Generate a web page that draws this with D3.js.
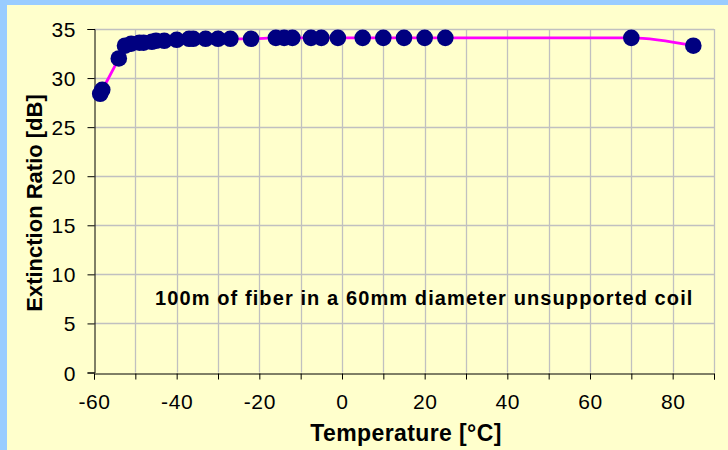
<!DOCTYPE html>
<html>
<head>
<meta charset="utf-8">
<script src="https://cdn.jsdelivr.net/npm/d3@7"></script>
<style>
  body { margin: 0; background: #99ccff; }
  svg { display: block; }
  text { font-family: 'Liberation Sans', Arial, sans-serif; fill: #000; }
</style>
</head>
<body>
<svg id="chart" width="728" height="450"></svg>
<script>
// temperature readings [°C] and extinction ratio [dB]
const temperatures = [-58.5, -58, -54, -52.5, -51, -49, -48, -46, -45, -43, -40, -37, -36, -33, -30, -27,
  -22, -16, -14, -12, -7.5, -5, -1, 5, 10, 15, 20, 25, 70, 85]
const extinction = [28.4, 28.8, 32.0, 33.3, 33.5, 33.6, 33.6, 33.7, 33.8, 33.8, 33.9, 34.0, 34.0, 34.0, 34.0, 34.0,
  34.0, 34.1, 34.1, 34.1, 34.1, 34.1, 34.1, 34.1, 34.1, 34.1, 34.1, 34.1, 34.1, 33.3]
const xTicks = [-60, -50, -40, -30, -20, -10, 0, 10, 20, 30, 40, 50, 60, 70, 80, 90]
const xLabels = [-60, -40, -20, 0, 20, 40, 60, 80]
const yTicks = [0, 5, 10, 15, 20, 25, 30, 35]

const svg = d3.select('#chart')

// pale yellow chart area, blue strip on top and left
svg.append('rect').attr('x', 7).attr('y', 5).attr('width', 721).attr('height', 445).attr('fill', '#ffffcc')

const x = d3.scaleLinear().domain([-60, 90]).range([94, 714])
const y = d3.scaleLinear().domain([0, 35]).range([372.5, 29])

// gridlines
const grid = svg.append('g').attr('stroke', '#c0c0c0').attr('stroke-width', 1.3)
grid.selectAll('line.v').data(xTicks.slice(1)).join('line')
  .attr('x1', d => Math.round(x(d)) + 0.5).attr('x2', d => Math.round(x(d)) + 0.5)
  .attr('y1', y(35)).attr('y2', y(0))
grid.selectAll('line.h').data(yTicks.slice(1)).join('line')
  .attr('x1', x(-60)).attr('x2', x(90))
  .attr('y1', d => Math.round(y(d)) + 0.5).attr('y2', d => Math.round(y(d)) + 0.5)

// axes
const xAxis = d3.axisBottom(x).tickValues(xTicks).tickSize(6).tickFormat(d => xLabels.includes(d) ? d : '')
const yAxis = d3.axisLeft(y).tickValues(yTicks).tickSize(7)

const gx = svg.append('g').attr('transform', `translate(0,${Math.round(y(0)) + 0.5})`).call(xAxis)
gx.select('.domain').attr('stroke', '#000')
gx.selectAll('text').attr('dy', '1.25em')

const gy = svg.append('g').attr('transform', `translate(${Math.round(x(-60)) + 0.5},0)`).call(yAxis)
gy.select('.domain').attr('stroke', '#000')
gy.selectAll('text').attr('dx', '-0.4em').attr('dy', '0.36em')
svg.selectAll('.tick text')
  .style('font-family', "'Liberation Sans', Arial, sans-serif")
  .style('font-size', '21px')
  .style('letter-spacing', '0.6px')

// smoothed line
const points = temperatures.map((t, i) => [t, extinction[i]])
const line = d3.line().x(d => x(d[0])).y(d => y(d[1])).curve(d3.curveMonotoneX)
svg.append('path').datum(points).attr('d', line)
  .attr('fill', 'none').attr('stroke', '#ff00ff').attr('stroke-width', 2.8)

// markers
svg.append('g').selectAll('circle').data(points).join('circle')
  .attr('cx', d => x(d[0])).attr('cy', d => y(d[1])).attr('r', 8.3)
  .attr('fill', '#000080')

// annotation
svg.append('text').attr('x', 155).attr('y', 305)
  .style('font-size', '20px').style('letter-spacing', '1.1px').attr('font-weight', 'bold')
  .text('100m of fiber in a 60mm diameter unsupported coil')

// axis titles
svg.append('text').attr('x', 406).attr('y', 441).attr('text-anchor', 'middle')
  .style('font-size', '23px').style('letter-spacing', '0.4px').attr('font-weight', 'bold')
  .text('Temperature [°C]')
svg.append('text').attr('transform', 'translate(42,203) rotate(-90)').attr('text-anchor', 'middle')
  .style('font-size', '22px').attr('font-weight', 'bold').text('Extinction Ratio [dB]')
</script>
</body>
</html>
